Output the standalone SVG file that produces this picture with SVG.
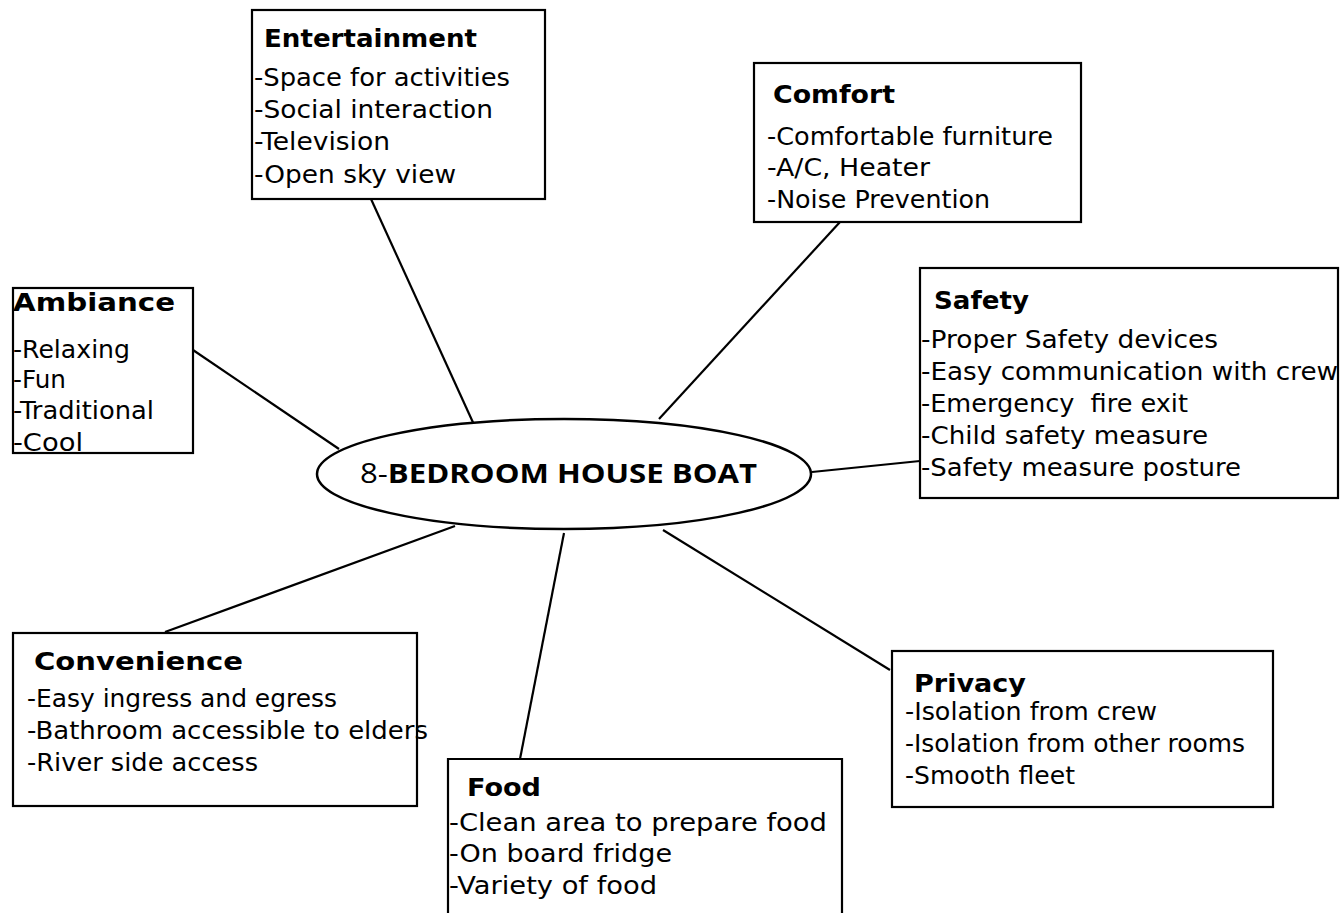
<svg xmlns="http://www.w3.org/2000/svg" width="1342" height="913" viewBox="0 0 1342 913">
<style>
.box{fill:#fff;stroke:#000;stroke-width:2.2}
.t{font-family:"DejaVu Sans","Liberation Sans",sans-serif;font-size:25px;font-weight:bold;fill:#000}
.b{font-family:"DejaVu Sans","Liberation Sans",sans-serif;font-size:24px;fill:#000}
.c{stroke:#000;stroke-width:2.2;fill:none}
</style>
<rect width="1342" height="913" fill="#fff"/>
<g id="connectors">
<line class="c" x1="371" y1="199" x2="481" y2="440"/>
<line class="c" x1="840" y1="222" x2="659" y2="419"/>
<line class="c" x1="193" y1="350" x2="339" y2="449"/>
<line class="c" x1="812" y1="472" x2="920" y2="461"/>
<line class="c" x1="165" y1="632" x2="455" y2="526"/>
<line class="c" x1="564" y1="533" x2="520" y2="759"/>
<line class="c" x1="663" y1="530" x2="890" y2="670"/>
</g>
<g id="center">
<ellipse cx="564" cy="474" rx="247" ry="55" fill="#fff" stroke="#000" stroke-width="2.5"/>
<text x="360" y="483" font-family="'Open Sans','DejaVu Sans',sans-serif" font-size="27" fill="#000" textLength="397" lengthAdjust="spacingAndGlyphs">8-<tspan font-weight="bold">BEDROOM HOUSE BOAT</tspan></text>
</g>
<g id="entertainment">
<rect class="box" x="252" y="10" width="293" height="189"/>
<text class="t" x="264" y="47" textLength="213" lengthAdjust="spacingAndGlyphs">Entertainment</text>
<text class="b" x="254" y="86" textLength="256" lengthAdjust="spacingAndGlyphs">-Space for activities</text>
<text class="b" x="254" y="118" textLength="239" lengthAdjust="spacingAndGlyphs">-Social interaction</text>
<text class="b" x="254" y="150" textLength="136" lengthAdjust="spacingAndGlyphs">-Television</text>
<text class="b" x="254" y="183" textLength="202" lengthAdjust="spacingAndGlyphs">-Open sky view</text>
</g>
<g id="comfort">
<rect class="box" x="754" y="63" width="327" height="159"/>
<text class="t" x="773" y="103" textLength="122" lengthAdjust="spacingAndGlyphs">Comfort</text>
<text class="b" x="767" y="145" textLength="286" lengthAdjust="spacingAndGlyphs">-Comfortable furniture</text>
<text class="b" x="767" y="176" textLength="163" lengthAdjust="spacingAndGlyphs">-A/C, Heater</text>
<text class="b" x="767" y="208" textLength="223" lengthAdjust="spacingAndGlyphs">-Noise Prevention</text>
</g>
<g id="ambiance">
<rect class="box" x="13" y="288" width="180" height="165"/>
<text class="t" x="13" y="311" textLength="162" lengthAdjust="spacingAndGlyphs">Ambiance</text>
<text class="b" x="13" y="358" textLength="117" lengthAdjust="spacingAndGlyphs">-Relaxing</text>
<text class="b" x="13" y="388" textLength="53" lengthAdjust="spacingAndGlyphs">-Fun</text>
<text class="b" x="13" y="419" textLength="141" lengthAdjust="spacingAndGlyphs">-Traditional</text>
<text class="b" x="13" y="451" textLength="70" lengthAdjust="spacingAndGlyphs">-Cool</text>
</g>
<g id="safety">
<rect class="box" x="920" y="268" width="418" height="230"/>
<text class="t" x="934" y="309" textLength="95" lengthAdjust="spacingAndGlyphs">Safety</text>
<text class="b" x="921" y="348" textLength="297" lengthAdjust="spacingAndGlyphs">-Proper Safety devices</text>
<text class="b" x="921" y="380" textLength="417" lengthAdjust="spacingAndGlyphs">-Easy communication with crew</text>
<text class="b" x="921" y="412" textLength="267" lengthAdjust="spacingAndGlyphs" xml:space="preserve">-Emergency  fire exit</text>
<text class="b" x="921" y="444" textLength="287" lengthAdjust="spacingAndGlyphs">-Child safety measure</text>
<text class="b" x="921" y="476" textLength="320" lengthAdjust="spacingAndGlyphs">-Safety measure posture</text>
</g>
<g id="convenience">
<rect class="box" x="13" y="633" width="404" height="173"/>
<text class="t" x="34" y="670" textLength="209" lengthAdjust="spacingAndGlyphs">Convenience</text>
<text class="b" x="27" y="707" textLength="310" lengthAdjust="spacingAndGlyphs">-Easy ingress and egress</text>
<text class="b" x="27" y="739" textLength="401" lengthAdjust="spacingAndGlyphs">-Bathroom accessible to elders</text>
<text class="b" x="27" y="771" textLength="231" lengthAdjust="spacingAndGlyphs">-River side access</text>
</g>
<g id="food">
<path class="box" d="M448 914 V759 H842 V914"/>
<text class="t" x="467" y="796" textLength="74" lengthAdjust="spacingAndGlyphs">Food</text>
<text class="b" x="449" y="831" textLength="378" lengthAdjust="spacingAndGlyphs">-Clean area to prepare food</text>
<text class="b" x="449" y="862" textLength="223" lengthAdjust="spacingAndGlyphs">-On board fridge</text>
<text class="b" x="449" y="894" textLength="208" lengthAdjust="spacingAndGlyphs">-Variety of food</text>
</g>
<g id="privacy">
<rect class="box" x="892" y="651" width="381" height="156"/>
<text class="t" x="914" y="692" textLength="112" lengthAdjust="spacingAndGlyphs">Privacy</text>
<text class="b" x="905" y="720" textLength="252" lengthAdjust="spacingAndGlyphs">-Isolation from crew</text>
<text class="b" x="905" y="752" textLength="340" lengthAdjust="spacingAndGlyphs">-Isolation from other rooms</text>
<text class="b" x="905" y="784" textLength="170" lengthAdjust="spacingAndGlyphs">-Smooth fleet</text>
</g>
</svg>
